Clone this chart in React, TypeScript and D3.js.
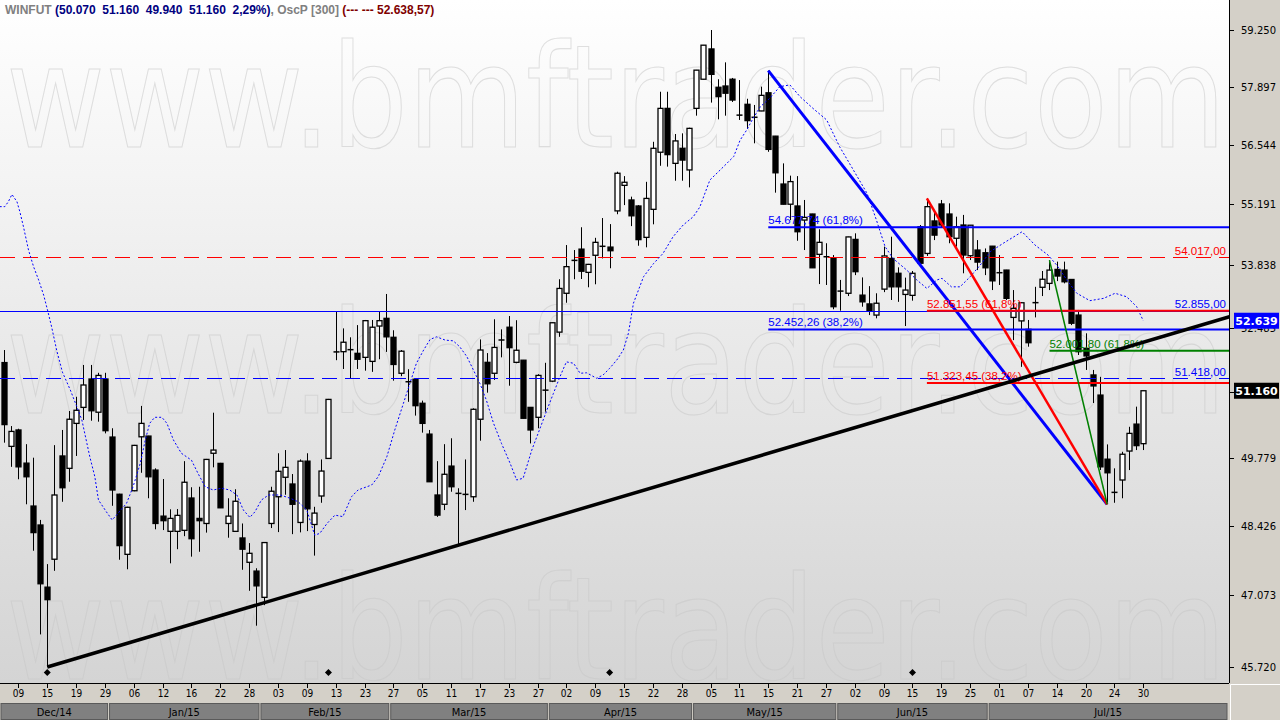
import * as d3 from 'd3'
import { useEffect, useRef } from 'react'

// Daily WINFUT candles, Dec/14 .. Jul/15 (index 0 = first visible session)
const opens = [
  51750, 50015, 50350, 49675, 48815, 48440, 47230, 47770, 49820, 49570,
  50485, 50815, 51405, 50715, 51405, 50205, 49050, 47865, 49120, 50210,
  50225, 49535, 48615, 48315, 48315, 48335, 48975, 48570, 48470, 49875,
  49670, 48470, 48315, 48185, 47710, 47540, 47035, 48470, 49000, 49390,
  49255, 48490, 49715, 48450, 49015, 49770, 51970, 51980, 52025, 51945,
  51860, 51775, 52525, 52690, 52285, 51525, 51350, 51400, 50900, 50265,
  49035, 48850, 49615, 49070, 49050, 49000, 50570, 51755, 51525, 52230,
  52500, 51755, 51800, 50815, 50610, 51175, 51360, 52395, 53230, 53950,
  54195, 53685, 54060, 54255, 54240, 55045, 55620, 55290, 55155, 54455,
  55080, 56375, 57390, 56120, 56465, 55970, 57390, 58075, 58795, 57885,
  57915, 58075, 57235, 57485, 57180, 57330, 57755, 56745, 55650, 55195,
  55155, 54840, 54975, 54080, 54030, 53990, 53280, 53230, 54410, 53190,
  53000, 52760, 53320, 53990, 53665, 53205, 53185, 54690, 54100, 54820,
  55200, 54975, 54435, 54730, 54050, 54175, 54115, 54260, 53680, 53735,
  52710, 52635, 52455, 53025, 53360, 53445, 53750, 53735, 53530, 52760,
  52050, 51490, 51070, 49755, 49090, 49335, 49920, 50470, 50070,
]
const highs = [
  52015, 50430, 50375, 50060, 49785, 48540, 47675, 50040, 50350, 50740,
  51035, 51700, 51700, 51535, 51535, 50385, 49060, 48800, 50045, 50845,
  50230, 49570, 49355, 48750, 48755, 49715, 49190, 49200, 49760, 50705,
  49680, 48970, 49150, 48470, 48085, 47595, 48100, 49200, 49875, 49940,
  49455, 49750, 49875, 48800, 49750, 50990, 52830, 52475, 52285, 52545,
  52655, 52655, 52830, 53215, 52435, 52015, 51610, 51420, 50955, 50350,
  49715, 50060, 50180, 49170, 49750, 50795, 52240, 51950, 52670, 52455,
  52740, 52650, 51805, 50820, 51505, 51745, 52600, 53535, 54285, 54175,
  54680, 53870, 54445, 54885, 54750, 55930, 55830, 55365, 55175, 55700,
  56615, 57780, 57780, 56795, 56810, 56940, 58295, 58890, 59250, 58075,
  58475, 58105, 58055, 57615, 57470, 57900, 58280, 56750, 56120, 55840,
  55830, 55290, 54980, 54635, 54325, 54065, 53520, 54470, 54545, 53575,
  53385, 53230, 54250, 54470, 53795, 53570, 53715, 54730, 55325, 55065,
  55290, 55215, 54915, 54955, 54730, 54395, 54210, 54265, 54065, 53740,
  53300, 53040, 52655, 53370, 53715, 53950, 53920, 53920, 53535, 52870,
  52370, 51595, 51450, 50055, 49570, 49905, 50415, 50830, 51160,
]
const lows = [
  50090, 49600, 49350, 48850, 47935, 46330, 45720, 47545, 48900, 49300,
  49820, 50555, 50540, 50520, 50280, 48820, 47760, 47575, 49110, 49480,
  48970, 48355, 48340, 47690, 47965, 48220, 47820, 47915, 48290, 49590,
  48775, 48190, 48310, 47565, 47160, 46495, 46885, 48380, 48300, 49040,
  48260, 48295, 48320, 47840, 48880, 49765, 51800, 51615, 51420, 51615,
  51580, 51555, 51820, 51975, 51370, 51465, 50930, 50645, 50295, 49295,
  48600, 48735, 49100, 48030, 48735, 48900, 50130, 51120, 51385, 51860,
  51265, 51735, 50585, 50075, 50385, 50725, 51340, 52295, 53025, 53535,
  53540, 53360, 53425, 53990, 53775, 54970, 55175, 54705, 54270, 54235,
  54745, 56065, 56045, 55725, 55725, 55575, 57220, 58070, 57525, 57135,
  57220, 57540, 57120, 56910, 56580, 57325, 56385, 55455, 55190, 54840,
  54380, 54175, 53780, 53430, 53410, 52885, 52855, 53170, 53625, 52940,
  52760, 52690, 53255, 53085, 53045, 52525, 53070, 53825, 54045, 54395,
  54665, 54325, 54250, 53665, 53955, 53735, 53625, 53300, 53410, 53085,
  52225, 51660, 52085, 52710, 53170, 53300, 53495, 53445, 52545, 51910,
  51595, 50905, 49535, 48850, 48880, 48970, 49535, 49940, 49940,
]
const closes = [
  50460, 50320, 49600, 49400, 48290, 47295, 46990, 49035, 49180, 50570,
  50755, 51280, 50745, 51480, 50335, 49135, 48035, 48790, 50035, 50485,
  49400, 48470, 48525, 48570, 48630, 49290, 48170, 48525, 49750, 49940,
  48780, 48615, 48910, 47965, 47885, 47255, 48095, 49110, 49510, 49590,
  48850, 49715, 48760, 48675, 49515, 50980, 51980, 52180, 52020, 51820,
  52640, 52500, 52640, 52295, 51710, 51990, 51345, 50850, 50485, 49300,
  48635, 49450, 49200, 49065, 49045, 50775, 52015, 51305, 52070, 52225,
  52065, 52010, 50590, 50350, 51480, 51170, 52595, 53335, 53810, 53945,
  53710, 53860, 54345, 54260, 54160, 55895, 55690, 54935, 54405, 55325,
  56465, 57390, 56320, 56635, 56195, 56925, 58290, 58885, 58190, 57665,
  57745, 57585, 57230, 57105, 57185, 57695, 56440, 55905, 55195, 55705,
  54580, 54900, 53785, 54345, 54025, 52940, 53275, 54465, 53700, 53045,
  52855, 53015, 54045, 53370, 53370, 53300, 53665, 53885, 55140, 54505,
  54730, 54470, 54690, 54065, 54725, 53910, 53785, 53500, 53675, 53120,
  52905, 53025, 52170, 53030, 53535, 53735, 53605, 53480, 52585, 51980,
  51890, 51260, 49600, 49480, 49085, 49855, 50280, 50030, 51160,
]

// OscP [300] dotted line, read at candle positions (index, value)
const oscIdx = [
  -0.6, 0.1, 0.6, 1.1, 1.8, 2.2, 2.7, 3.4, 4.1, 4.8, 5.5, 6.1, 6.6, 7.3, 8.1,
  9.2, 10.1, 10.8, 11.5, 11.9, 12.6, 13.1, 14.2, 15.0, 15.6, 17.0, 17.9, 18.9, 19.6, 20.2,
  20.9, 21.9, 22.6, 23.5, 24.6, 26.0, 26.9, 27.9, 29.0, 30.2, 31.3, 32.3, 33.2, 34.1, 34.8,
  35.7, 36.7, 38.3, 39.7, 40.8, 42.0, 43.1, 43.8, 44.8, 45.9, 47.0, 48.2, 49.1, 51.0, 51.9,
  53.1, 54.2, 55.4, 56.3, 57.2, 58.2, 59.1, 60.0, 61.2, 62.3, 63.2, 64.2, 65.1, 66.0, 66.9,
  67.9, 69.0, 70.2, 71.1, 72.0, 73.2, 73.9, 75.3, 76.2, 77.1, 78.0, 79.0, 79.9, 80.8, 82.2,
  83.1, 84.0, 85.0, 85.9, 86.6, 87.3, 88.7, 90.1, 91.4, 92.8, 94.2, 95.6, 96.5, 97.9, 99.8,
  101.2, 102.1, 103.0, 103.9, 104.9, 106.2, 107.6, 109.0, 110.4, 112.2, 114.1, 115.9, 117.8, 119.7, 121.0,
  122.2, 123.3, 125.2, 126.6, 128.0, 129.4, 130.1, 131.4, 132.6, 134.0, 135.4, 136.8, 138.6, 141.2, 143.0,
  144.8, 146.0, 147.4, 148.8, 150.6, 152.5, 154.1, 155.7, 157.1, 158.0,
]
const oscVal = [
  55140, 55140, 55250, 55415, 55250, 55025, 54690, 54175, 53810, 53520, 53190, 52830, 52510, 52015, 51550,
  51175, 50830, 50555, 50075, 49805, 49400, 48935, 48700, 48540, 48635, 48870, 49200, 49670, 50145, 50485,
  50610, 50610, 50485, 50145, 49875, 49735, 49470, 49200, 49135, 49170, 49135, 49035, 48735, 48590, 48700,
  48935, 49035, 49035, 48970, 48900, 48735, 48240, 48275, 48470, 48635, 48605, 49000, 49135, 49235, 49400,
  49805, 50350, 50900, 51315, 51735, 52015, 52240, 52295, 52225, 52210, 52085, 51875, 51595, 51315, 50965,
  50485, 50075, 49670, 49335, 49370, 49940, 50210, 50760, 51105, 51450, 51765, 51735, 51525, 51535, 51420,
  51490, 51630, 51805, 52015, 52370, 53015, 53590, 53880, 54100, 54470, 54730, 54915, 55130, 55740, 56045,
  56275, 56655, 56885, 57160, 57430, 57625, 57900, 57940, 57665, 57390, 57120, 56500, 55970, 55440, 54840,
  54250, 53990, 53735, 53520, 53335, 53520, 53555, 53370, 53370, 53590, 53845, 54140, 54325, 54580, 54285,
  54065, 53845, 53520, 53230, 53070, 53120, 53230, 53155, 52940, 52640,
]

const yTicks = [45720, 47073, 48426, 49779, 51132, 52485, 53838, 55191, 56544, 57897, 59250]
const dayTickLabels = [
  '09', '15', '19', '29', '06', '12', '16', '22', '28', '03', '09', '13', '23', '27',
  '05', '11', '17', '23', '27', '02', '09', '15', '22', '28', '05', '11', '15', '21',
  '27', '02', '09', '15', '19', '25', '01', '07', '14', '20', '24', '30',
]
const dayTickFirst = 2
const dayTickEvery = 4
const monthLabels = ['Dec/14', 'Jan/15', 'Feb/15', 'Mar/15', 'Apr/15', 'May/15', 'Jun/15', 'Jul/15']
const monthFirstIdx = [0, 16, 37, 55, 77, 97, 117, 138]
const markerIdx = [6, 45, 84, 126]

// drawn studies
const hLevels = [
  { v: 54017, label: '54.017,00', color: '#ff0000', dash: true },
  { v: 52855, label: '52.855,00', color: '#0000ff', dash: false },
  { v: 51418, label: '51.418,00', color: '#0000ff', dash: true },
]
const fibs = [
  { hiIdx: 106, hi: 58280, loIdx: 153, lo: 48850, color: '#0000ff', w: 3, levels: [0.382, 0.618] },
  { hiIdx: 128, hi: 55325, loIdx: 153, lo: 48850, color: '#ff0000', w: 2.5, levels: [0.382, 0.618] },
  { hiIdx: 145, hi: 53950, loIdx: 153, lo: 48850, color: '#008000', w: 1.5, levels: [0.618] },
]
const trendIdx = [6, 158]
const trendVal = [45720, 52180]
const lastOsc = 52638.57

export default function App() {
  const ref = useRef<SVGSVGElement>(null)

  useEffect(() => {
    const W = 1280
    const H = 720
    const plotR = 1229
    const plotB = 683

    const x = d3.scaleLinear().domain([0, 158]).range([4, 1143.2])
    const step = x(1) - x(0)
    const y = d3.scaleLog().domain([45720, 59250]).range([667, 30])

    const loc = d3.formatLocale({ decimal: ',', thousands: '.', grouping: [3], currency: ['', ''] })
    const fmtInt = loc.format(',d')
    const fmt2 = loc.format(',.2f')
    const fmtPct = loc.format('.1f')

    const svg = d3.select(ref.current)
    svg.selectAll('*').remove()

    const defs = svg.append('defs')
    const grad = defs
      .append('linearGradient')
      .attr('id', 'bgGrad')
      .attr('x1', 0)
      .attr('y1', 0)
      .attr('x2', 0)
      .attr('y2', 1)
    grad.append('stop').attr('offset', '0%').attr('stop-color', '#ffffff')
    grad.append('stop').attr('offset', '100%').attr('stop-color', '#d4d4d4')
    defs.append('clipPath').attr('id', 'plotClip').append('rect').attr('width', plotR).attr('height', plotB)

    svg.append('rect').attr('width', W).attr('height', H).attr('fill', '#d4d0c8')
    svg.append('rect').attr('width', plotR).attr('height', plotB).attr('fill', 'url(#bgGrad)')

    const plot = svg.append('g').attr('clip-path', 'url(#plotClip)')

    // watermark (faint outlined text)
    ;[147, 413, 679].forEach(b => {
      plot
        .append('text')
        .attr('x', 6)
        .attr('y', b)
        .attr('textLength', 1220)
        .attr('lengthAdjust', 'spacingAndGlyphs')
        .attr('font-family', 'DejaVu Sans')
        .attr('font-size', 143)
        .attr('fill', 'none')
        .attr('stroke', '#c8c8c8')
        .attr('stroke-width', 1.1)
        .attr('opacity', 0.55)
        .text('www.bmftrader.com')
    })

    // candles
    const cg = plot.append('g')
    const candles = d3.range(opens.length).map(i => ({
      i,
      o: opens[i],
      h: highs[i],
      l: lows[i],
      c: closes[i],
    }))
    candles.forEach(d => {
      const cx = Math.round(x(d.i)) + 0.5
      cg.append('line')
        .attr('x1', cx)
        .attr('x2', cx)
        .attr('y1', y(d.h))
        .attr('y2', y(d.l))
        .attr('stroke', '#000')
        .attr('stroke-width', 1)
      const top = y(Math.max(d.o, d.c))
      const bot = y(Math.min(d.o, d.c))
      if (bot - top < 1.5) {
        cg.append('line')
          .attr('x1', cx - 3)
          .attr('x2', cx + 3)
          .attr('y1', (top + bot) / 2)
          .attr('y2', (top + bot) / 2)
          .attr('stroke', '#000')
          .attr('stroke-width', 1.5)
      } else {
        cg.append('rect')
          .attr('x', cx - 2.5)
          .attr('y', top)
          .attr('width', 5)
          .attr('height', bot - top)
          .attr('fill', d.c >= d.o ? '#ffffff' : '#000000')
          .attr('stroke', '#000')
          .attr('stroke-width', 1.3)
      }
    })

    // horizontal levels
    hLevels.forEach(l => {
      plot
        .append('line')
        .attr('x1', 0)
        .attr('x2', plotR)
        .attr('y1', Math.round(y(l.v)) + 0.5)
        .attr('y2', Math.round(y(l.v)) + 0.5)
        .attr('stroke', l.color)
        .attr('stroke-width', 1.2)
        .attr('stroke-dasharray', l.dash ? '15,8' : null)
    })

    // OscP dotted
    const oscLine = d3
      .line<number>()
      .x((_, k) => x(oscIdx[k]))
      .y(v => y(v))
    plot
      .append('path')
      .attr('d', oscLine(oscVal))
      .attr('fill', 'none')
      .attr('stroke', '#0000ff')
      .attr('stroke-width', 1)
      .attr('stroke-dasharray', '2,2')

    // fibonacci retracements
    fibs.forEach(f => {
      const x0 = x(f.hiIdx)
      f.levels.forEach(p => {
        const v = f.lo + p * (f.hi - f.lo)
        const yy = y(v)
        plot
          .append('line')
          .attr('x1', x0)
          .attr('x2', plotR)
          .attr('y1', yy)
          .attr('y2', yy)
          .attr('stroke', f.color)
          .attr('stroke-width', 2)
        plot
          .append('text')
          .attr('x', x0)
          .attr('y', yy - 3)
          .attr('font-family', 'Liberation Sans, Arial, sans-serif')
          .attr('font-size', 11.5)
          .attr('fill', f.color)
          .text(`${fmt2(v)} (${fmtPct(p * 100)}%)`)
      })
      plot
        .append('line')
        .attr('x1', x0)
        .attr('y1', y(f.hi))
        .attr('x2', x(f.loIdx))
        .attr('y2', y(f.lo))
        .attr('stroke', f.color)
        .attr('stroke-width', f.w)
    })

    // long trend line
    const tx0 = x(trendIdx[0])
    const ty0 = y(trendVal[0])
    const tx1 = x(trendIdx[1])
    const ty1 = y(trendVal[1])
    const slope = (ty1 - ty0) / (tx1 - tx0)
    plot
      .append('line')
      .attr('x1', tx0)
      .attr('y1', ty0)
      .attr('x2', plotR + 2)
      .attr('y2', ty0 + slope * (plotR + 2 - tx0))
      .attr('stroke', '#000')
      .attr('stroke-width', 3.5)

    // level labels at right
    hLevels.forEach(l => {
      plot
        .append('text')
        .attr('x', 1226)
        .attr('y', y(l.v) - 2.5)
        .attr('text-anchor', 'end')
        .attr('font-family', 'Liberation Sans, Arial, sans-serif')
        .attr('font-size', 11.5)
        .attr('fill', l.color)
        .text(l.label)
    })

    // event markers
    markerIdx.forEach(i => {
      const cx = x(i)
      plot
        .append('path')
        .attr('d', `M${cx},${669}L${cx + 3.5},${672.5}L${cx},${676}L${cx - 3.5},${672.5}Z`)
        .attr('fill', '#000')
    })

    // frame
    svg.append('line').attr('x1', plotR + 0.5).attr('x2', plotR + 0.5).attr('y1', 0).attr('y2', plotB).attr('stroke', '#000')
    svg.append('line').attr('x1', 0).attr('x2', plotR).attr('y1', plotB + 0.5).attr('y2', plotB + 0.5).attr('stroke', '#000')

    // right axis
    const ax = svg.append('g').attr('font-family', 'DejaVu Sans, Verdana, sans-serif').attr('font-size', 10)
    yTicks.forEach(t => {
      const yy = Math.round(y(t)) + 0.5
      ax.append('line').attr('x1', plotR).attr('x2', plotR + 5).attr('y1', yy).attr('y2', yy).attr('stroke', '#000')
      ax.append('text')
        .attr('x', 1241)
        .attr('y', yy)
        .attr('dy', '0.35em')
        .attr('fill', '#000')
        .text(fmtInt(t))
    })
    const tag = (v: number, fill: string, label: string) => {
      const yy = y(v)
      ax.append('rect').attr('x', 1234).attr('y', yy - 8).attr('width', 45).attr('height', 16).attr('fill', fill)
      ax.append('text')
        .attr('x', 1256.5)
        .attr('y', yy)
        .attr('dy', '0.36em')
        .attr('text-anchor', 'middle')
        .attr('font-weight', 'bold')
        .attr('font-size', 11)
        .attr('fill', '#fff')
        .text(label)
    }
    tag(lastOsc, '#0000ff', fmtInt(Math.round(lastOsc)))
    tag(closes[closes.length - 1], '#000000', fmtInt(closes[closes.length - 1]))

    // bottom axis: day ticks
    const bx = svg.append('g').attr('font-family', 'DejaVu Sans Condensed, DejaVu Sans, sans-serif').attr('font-size', 10)
    dayTickLabels.forEach((lab, k) => {
      const cx = Math.round(x(dayTickFirst + k * dayTickEvery)) + 0.5
      bx.append('line').attr('x1', cx).attr('x2', cx).attr('y1', plotB + 1).attr('y2', plotB + 5).attr('stroke', '#000')
      bx.append('text')
        .attr('x', cx)
        .attr('y', 693)
        .attr('dy', '0.35em')
        .attr('text-anchor', 'middle')
        .attr('fill', '#000')
        .text(lab)
    })

    // month bands
    monthLabels.forEach((m, k) => {
      const left = k === 0 ? 0 : x(monthFirstIdx[k] - 1) - step / 2
      const right = k === monthLabels.length - 1 ? plotR - 1 : x(monthFirstIdx[k + 1] - 1) - step / 2
      bx.append('rect')
        .attr('x', left + 1)
        .attr('y', 703.5)
        .attr('width', right - left - 2)
        .attr('height', 16)
        .attr('fill', '#808080')
        .attr('stroke', '#5a5a5a')
        .attr('stroke-width', 1)
      bx.append('text')
        .attr('x', (left + right) / 2)
        .attr('y', 712)
        .attr('dy', '0.35em')
        .attr('text-anchor', 'middle')
        .attr('font-size', 11)
        .attr('fill', '#000')
        .text(m)
    })

    // corner box
    svg.append('path').attr('d', `M${plotR + 1.5},${H}V${plotB + 1.5}H${W}`).attr('fill', 'none').attr('stroke', '#fff')

    // header
    const hd = svg
      .append('text')
      .attr('x', 5)
      .attr('y', 14)
      .attr('font-family', 'Liberation Sans, Arial, sans-serif')
      .attr('font-weight', 'bold')
      .attr('font-size', 12)
      .style('white-space', 'pre')
    hd.append('tspan').attr('fill', '#808080').text('WINFUT ')
    hd.append('tspan').attr('fill', '#000080').text('(50.070  51.160  49.940  51.160  2,29%)')
    hd.append('tspan').attr('fill', '#808080').text(', OscP [300] ')
    hd.append('tspan').attr('fill', '#800000').text('(--- --- 52.638,57)')
  }, [])

  return (
    <svg
      ref={ref}
      width={1280}
      height={720}
      style={{ position: 'absolute', left: 0, top: 0, display: 'block' }}
    />
  )
}
